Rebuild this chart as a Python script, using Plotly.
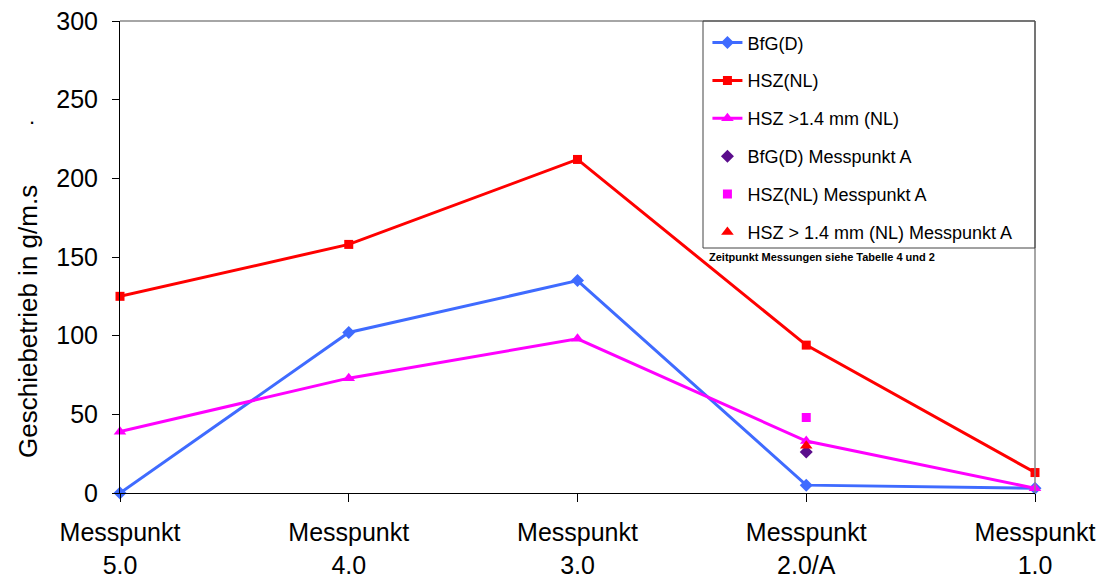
import plotly.graph_objects as go

categories = ["Messpunkt<br>5.0", "Messpunkt<br>4.0", "Messpunkt<br>3.0", "Messpunkt<br>2.0/A", "Messpunkt<br>1.0"]
bfg_d = [0, 102, 135, 5, 3]
hsz_nl = [125, 158, 212, 94, 13]
hsz_14 = [39, 73, 98, 33, 3]
point_a_cat = ["Messpunkt<br>2.0/A"]
bfg_a = [26]
hsz_a = [48]
hsz14_a = [30]
y_title = "Geschiebetrieb in g/m.s"

FONT = "Liberation Sans, Arial, sans-serif"
fig = go.Figure()
fig.add_trace(go.Scatter(x=categories, y=bfg_d, name="BfG(D)", mode="lines+markers",
                         line=dict(color="#3F6BFF", width=3), marker=dict(symbol="diamond", size=10, color="#3F6BFF"),
                         legendgroup="a", cliponaxis=False))
fig.add_trace(go.Scatter(x=categories, y=hsz_nl, name="HSZ(NL)", mode="lines+markers",
                         line=dict(color="#FF0000", width=3), marker=dict(symbol="square", size=9, color="#FF0000"),
                         legendgroup="b", cliponaxis=False))
fig.add_trace(go.Scatter(x=categories, y=hsz_14, name="HSZ >1.4 mm (NL)", mode="lines+markers",
                         line=dict(color="#FF00FF", width=3), marker=dict(symbol="triangle-up", size=11, color="#FF00FF"),
                         legendgroup="c", cliponaxis=False))
fig.add_trace(go.Scatter(x=point_a_cat, y=bfg_a, name="BfG(D) Messpunkt A", mode="markers",
                         marker=dict(symbol="diamond", size=10, color="#5B0D8C"), legendgroup="d", cliponaxis=False))
fig.add_trace(go.Scatter(x=point_a_cat, y=hsz_a, name="HSZ(NL) Messpunkt A", mode="markers",
                         marker=dict(symbol="square", size=9, color="#FF00FF"), legendgroup="e", cliponaxis=False))
fig.add_trace(go.Scatter(x=point_a_cat, y=hsz14_a, name="HSZ > 1.4 mm (NL) Messpunkt A", mode="markers",
                         marker=dict(symbol="triangle-up", size=11, color="#FF0000"), legendgroup="f", cliponaxis=False))

fig.update_layout(
    width=1107, height=581,
    margin=dict(l=120, r=72, t=21, b=88),
    paper_bgcolor="white", plot_bgcolor="white",
    font=dict(family=FONT, color="black"),
    showlegend=True,
    legend=dict(x=0.642, y=0.993, xanchor="left", yanchor="top", bgcolor="rgba(0,0,0,0)",
                borderwidth=0, font=dict(size=18, family=FONT), tracegroupgap=11.5),
    xaxis=dict(type="category", categoryorder="array", categoryarray=categories, range=[0, 4],
               showline=True, linecolor="black", linewidth=1, ticks="outside", ticklen=8,
               tickcolor="black", showgrid=False, zeroline=False, tickfont=dict(size=25, family=FONT),
               ticklabelstandoff=9, automargin=False),
    yaxis=dict(range=[0, 300], dtick=50, showline=True, linecolor="black", linewidth=1,
               ticks="outside", ticklen=7, tickcolor="black", showgrid=False, zeroline=False,
               tickfont=dict(size=25, family=FONT), ticklabelstandoff=9, automargin=False),
    shapes=[
        dict(type="line", xref="paper", yref="paper", x0=0, x1=1, y0=1, y1=1, line=dict(color="#888888", width=1.5)),
        dict(type="line", xref="paper", yref="paper", x0=1, x1=1, y0=0, y1=1, line=dict(color="#888888", width=1.5)),
        dict(type="rect", xref="paper", yref="paper", x0=(703-120)/915, x1=1, y0=(493-248)/472, y1=1,
             line=dict(color="#444444", width=1)),
    ],
    annotations=[
        dict(text=y_title, textangle=-90, xref="paper", yref="paper",
             x=(28-120)/915, y=(493-322)/472, xanchor="center", yanchor="middle", showarrow=False,
             font=dict(size=26, family=FONT)),
        dict(text="<b>Zeitpunkt Messungen siehe Tabelle 4 und 2</b>", xref="paper", yref="paper",
             x=(707-120)/915, y=(493-257)/472, xanchor="left", yanchor="middle", showarrow=False,
             font=dict(size=11, family=FONT)),
        dict(text=".", xref="paper", yref="paper", x=(27-120)/915, y=(493-102)/472, showarrow=False,
             font=dict(size=22, family=FONT)),
    ],
)

fig.write_html("out.html")
